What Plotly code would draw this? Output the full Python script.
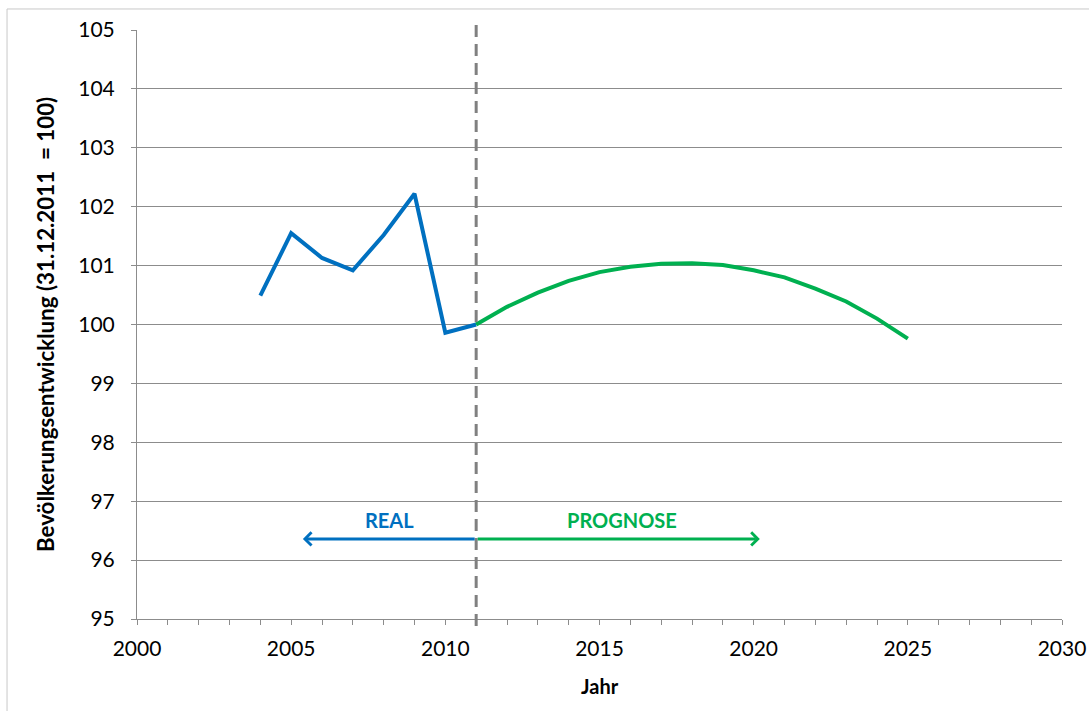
import plotly.graph_objects as go

years_real = [2004, 2005, 2006, 2007, 2008, 2009, 2010, 2011]
values_real = [100.49, 101.55, 101.13, 100.92, 101.52, 102.22, 99.86, 100.0]

years_prog = [2011, 2012, 2013, 2014, 2015, 2016, 2017, 2018, 2019, 2020, 2021, 2022, 2023, 2024, 2025]
values_prog = [100.0, 100.30, 100.54, 100.74, 100.89, 100.98, 101.03, 101.04, 101.01, 100.92,
               100.80, 100.61, 100.39, 100.10, 99.76]

divider_year = 2011
arrow_y = 96.36
real_arrow_end = 2005.38
prog_arrow_end = 2020.2
label_y = 96.68
real_label_x = 2008.2
prog_label_x = 2015.73

x_title = "Jahr"
y_title = "Bevölkerungsentwicklung (31.12.2011  = 100)"

BLUE = "#0070C0"
GREEN = "#00B050"
GRID = "#8c8c8c"
FONT = "Lato"

fig = go.Figure()
fig.add_trace(go.Scatter(x=years_real, y=values_real, mode="lines",
                         line=dict(color=BLUE, width=4), showlegend=False))
fig.add_trace(go.Scatter(x=years_prog, y=values_prog, mode="lines",
                         line=dict(color=GREEN, width=4), showlegend=False))

fig.update_layout(
    width=1089, height=711,
    margin=dict(l=137, r=27, t=30, b=92),
    paper_bgcolor="white", plot_bgcolor="white",
    font=dict(family=FONT, size=21, color="black"),
    xaxis=dict(range=[2000, 2030], dtick=5, tick0=2000, showgrid=False,
               showline=True, linecolor=GRID, linewidth=1,
               ticks="outside", ticklen=5, tickcolor=GRID, tickwidth=1,
               minor=dict(dtick=1, ticks="outside", ticklen=5, tickcolor=GRID, showgrid=False),
               zeroline=False, ticklabelstandoff=6, automargin=False),
    yaxis=dict(range=[95, 105], dtick=1, showgrid=True, gridcolor=GRID, gridwidth=1,
               showline=True, linecolor=GRID, linewidth=1,
               ticks="outside", ticklen=5, tickcolor=GRID, tickwidth=1,
               zeroline=False, ticklabelstandoff=12, automargin=False),
)

# outer border
fig.add_shape(type="rect", xref="paper", yref="paper",
              x0=-0.1405, x1=1.04, y0=-0.18, y1=1.0357,
              line=dict(color="#c8c8c8", width=1), fillcolor="rgba(0,0,0,0)", layer="below")

# dashed divider
fig.add_shape(type="line", xref="x", yref="paper",
              x0=divider_year, x1=divider_year, y0=-0.012, y1=1.0136,
              line=dict(color="#808080", width=3, dash="12px,7px"), layer="above")

# arrows
fig.add_annotation(x=real_arrow_end, y=arrow_y, ax=divider_year, ay=arrow_y,
                   xref="x", yref="y", axref="x", ayref="y", text="",
                   showarrow=True, arrowhead=4, arrowsize=0.85, arrowwidth=3,
                   arrowcolor=BLUE, standoff=0, startstandoff=0)
fig.add_annotation(x=prog_arrow_end, y=arrow_y, ax=divider_year, ay=arrow_y,
                   xref="x", yref="y", axref="x", ayref="y", text="",
                   showarrow=True, arrowhead=4, arrowsize=0.85, arrowwidth=3,
                   arrowcolor=GREEN, standoff=0, startstandoff=0)

fig.add_annotation(x=real_label_x, y=label_y, xref="x", yref="y", text="<b>REAL</b>",
                   showarrow=False, font=dict(family=FONT, size=20, color=BLUE))
fig.add_annotation(x=prog_label_x, y=label_y, xref="x", yref="y", text="<b>PROGNOSE</b>",
                   showarrow=False, font=dict(family=FONT, size=20, color=GREEN))

# axis titles
fig.add_annotation(x=0.5, y=-0.114, xref="paper", yref="paper", text="<b>" + x_title + "</b>",
                   xanchor="center", yanchor="middle",
                   showarrow=False, font=dict(family=FONT, size=20, color="black"))
fig.add_annotation(x=-0.0995, y=0.5008, xref="paper", yref="paper", text="<b>" + y_title + "</b>",
                   xanchor="center", yanchor="middle",
                   showarrow=False, textangle=-90, font=dict(family=FONT, size=22.3, color="black"))

fig.write_html("out.html", config={"displayModeBar": False},
               post_script="document.body.style.margin='0';document.body.style.overflow='hidden';")
